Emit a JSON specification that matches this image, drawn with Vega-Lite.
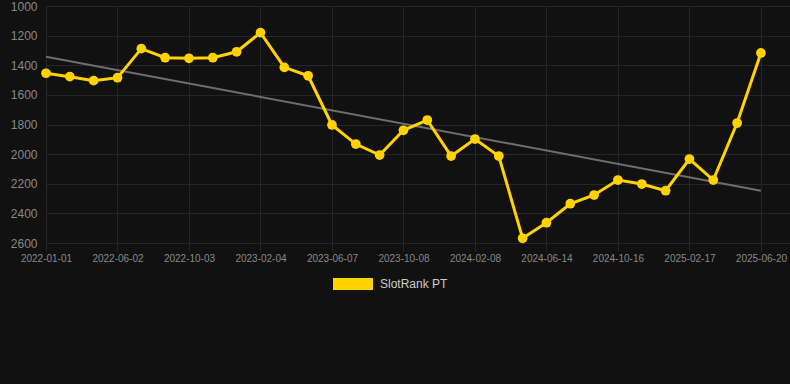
{
  "$schema": "https://vega.github.io/schema/vega-lite/v6.json",
  "autosize": {"type": "none"},
  "padding": {"left": 46, "top": 6, "right": 0, "bottom": 141},
  "width": 744,
  "height": 237,
  "background": "#111111",
  "config": {
    "view": {"stroke": null},
    "font": "Liberation Sans"
  },
  "datasets": {
    "rank": [
      {"date": "2022-01-01", "rank": 1454},
      {"date": "2022-02-20", "rank": 1477},
      {"date": "2022-04-11", "rank": 1504},
      {"date": "2022-06-02", "rank": 1484},
      {"date": "2022-07-13", "rank": 1288},
      {"date": "2022-08-23", "rank": 1349},
      {"date": "2022-10-03", "rank": 1353},
      {"date": "2022-11-13", "rank": 1349},
      {"date": "2022-12-24", "rank": 1309},
      {"date": "2023-02-04", "rank": 1180},
      {"date": "2023-03-18", "rank": 1414},
      {"date": "2023-04-27", "rank": 1471},
      {"date": "2023-06-07", "rank": 1803},
      {"date": "2023-07-18", "rank": 1932},
      {"date": "2023-08-28", "rank": 2006},
      {"date": "2023-10-08", "rank": 1839},
      {"date": "2023-11-18", "rank": 1770},
      {"date": "2023-12-29", "rank": 2013},
      {"date": "2024-02-08", "rank": 1898},
      {"date": "2024-03-20", "rank": 2013},
      {"date": "2024-05-02", "rank": 2568},
      {"date": "2024-06-14", "rank": 2463},
      {"date": "2024-07-25", "rank": 2335},
      {"date": "2024-09-04", "rank": 2276},
      {"date": "2024-10-16", "rank": 2175},
      {"date": "2024-11-26", "rank": 2202},
      {"date": "2025-01-06", "rank": 2247},
      {"date": "2025-02-17", "rank": 2033},
      {"date": "2025-03-30", "rank": 2175},
      {"date": "2025-05-10", "rank": 1790},
      {"date": "2025-06-20", "rank": 1317}
    ],
    "trend": [
      {"date": "2022-01-01", "rank": 1342},
      {"date": "2025-06-20", "rank": 2247}
    ]
  },
  "encoding": {
    "x": {
      "field": "date",
      "type": "ordinal",
      "sort": null,
      "scale": {"type": "point", "padding": 0.61, "align": 0, "domain": [
        "2022-01-01","2022-02-20","2022-04-11","2022-06-02","2022-07-13","2022-08-23","2022-10-03","2022-11-13","2022-12-24","2023-02-04","2023-03-18","2023-04-27","2023-06-07","2023-07-18","2023-08-28","2023-10-08","2023-11-18","2023-12-29","2024-02-08","2024-03-20","2024-05-02","2024-06-14","2024-07-25","2024-09-04","2024-10-16","2024-11-26","2025-01-06","2025-02-17","2025-03-30","2025-05-10","2025-06-20"
      ]},
      "axis": {
        "title": null,
        "values": ["2022-01-01","2022-06-02","2022-10-03","2023-02-04","2023-06-07","2023-10-08","2024-02-08","2024-06-14","2024-10-16","2025-02-17","2025-06-20"],
        "labelAngle": 0,
        "labelFontSize": 10,
        "labelColor": "#888888",
        "labelFont": "Liberation Sans",
        "labelPadding": 2,
        "grid": true,
        "gridColor": "#262626",
        "gridWidth": 1,
        "ticks": true,
        "tickColor": "#262626",
        "tickSize": 8,
        "domain": false
      }
    },
    "y": {
      "field": "rank",
      "type": "quantitative",
      "scale": {"domain": [1000, 2600], "reverse": true, "nice": false, "zero": false},
      "axis": {
        "title": null,
        "format": "d",
        "values": [1000, 1200, 1400, 1600, 1800, 2000, 2200, 2400, 2600],
        "labelFontSize": 12,
        "labelColor": "#888888",
        "labelFont": "Liberation Sans",
        "labelPadding": 9,
        "ticks": false,
        "grid": true,
        "gridColor": "#262626",
        "gridWidth": 1,
        "domain": false
      }
    }
  },
  "layer": [
    {
      "data": {"name": "trend"},
      "mark": {"type": "line", "color": "#6e6e6e", "strokeWidth": 2},
      "encoding": {}
    },
    {
      "data": {"name": "rank"},
      "mark": {"type": "line", "color": "#ffd200", "strokeWidth": 3},
      "encoding": {}
    },
    {
      "data": {"name": "rank"},
      "mark": {"type": "circle", "size": 95, "opacity": 1},
      "encoding": {
        "color": {
          "datum": "SlotRank PT",
          "scale": {"range": ["#ffd200"]},
          "legend": {
            "title": null,
            "orient": "none",
            "legendX": 287,
            "legendY": 258,
            "symbolType": "M-1,-0.3H1V0.3H-1Z",
            "symbolSize": 1600,
            "symbolStrokeWidth": 0,
            "symbolOpacity": 1,
            "labelColor": "#cccccc",
            "labelFontSize": 12,
            "labelFont": "Liberation Sans",
            "labelOffset": 7
          }
        }
      }
    }
  ]
}
